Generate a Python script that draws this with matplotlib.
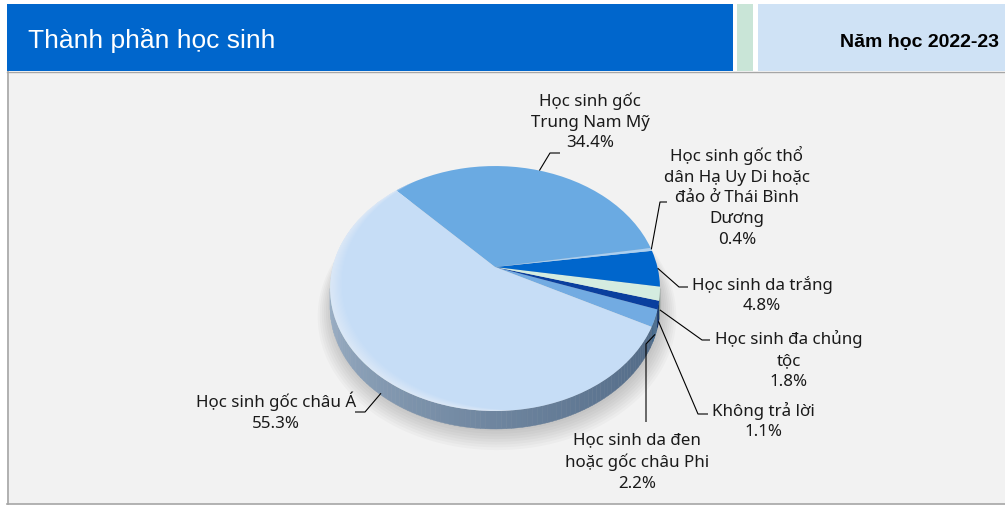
import numpy as np
import matplotlib
matplotlib.use("Agg")
import matplotlib.pyplot as plt
import matplotlib.transforms as mtransforms
from matplotlib.patches import Rectangle, Polygon
from matplotlib.colors import to_rgb

# ---------------- data ----------------
title = "Thành phần học sinh"
year_label = "Năm học 2022-23"
categories = [
    "Học sinh da đen\nhoặc gốc châu Phi",
    "Không trả lời",
    "Học sinh đa chủng\ntộc",
    "Học sinh da trắng",
    "Học sinh gốc thổ\ndân Hạ Uy Di hoặc\nđảo ở Thái Bình\nDương",
    "Học sinh gốc\nTrung Nam Mỹ",
    "Học sinh gốc châu Á",
]
shares = [2.2, 1.1, 1.8, 4.8, 0.4, 34.4, 55.3]
colors = ["#72abe2", "#0a3f9e", "#d4ece0", "#0066cc", "#a9cff2", "#6aaae2", "#c6ddf6"]

# ---------------- layout (pixels) ----------------
W, H = 1005, 506
fig = plt.figure(figsize=(W / 100, H / 100), dpi=100)
fig.patch.set_facecolor("white")
ax = fig.add_axes([0, 0, 1, 1])

# header and frame
ax.add_patch(Rectangle((7, 73), 998, 432, facecolor="#f2f2f2", edgecolor="none", zorder=0))
ax.plot([7.5, 7.5], [72, 505], color="#a6a6a6", lw=1.2, zorder=1)
ax.plot([7, 1005], [504.5, 504.5], color="#a6a6a6", lw=1.2, zorder=1)
ax.plot([7, 1005], [72.5, 72.5], color="#a6a6a6", lw=1.0, zorder=1)
ax.add_patch(Rectangle((7, 5), 726, 67, facecolor="#0066cc", edgecolor="none", zorder=1))
ax.add_patch(Rectangle((737, 5), 16, 67, facecolor="#c9e5d7", edgecolor="none", zorder=1))
ax.add_patch(Rectangle((758, 5), 247, 67, facecolor="#cfe2f5", edgecolor="none", zorder=1))
ax.text(28, 40, title, color="white", fontsize=19, family="Liberation Sans",
        ha="left", va="center", zorder=5)
ax.text(999, 42, year_label, color="black", fontsize=14, family="Liberation Sans",
        fontweight="bold", ha="right", va="center", zorder=5)


# ---------------- perspective pie ----------------
class Perspective(mtransforms.Transform):
    input_dims = 2
    output_dims = 2
    is_separable = False

    def __init__(self, cx, cy, a, b, k):
        super().__init__()
        self.cx, self.cy, self.a, self.b, self.k = cx, cy, a, b, k

    def transform_non_affine(self, values):
        values = np.asarray(values, dtype=float).reshape(-1, 2)
        u, v = values[:, 0], values[:, 1]
        w = 1 + self.k * v
        return np.column_stack([self.cx + self.a * u / w, self.cy - self.b * v / w])


persp = Perspective(cx=495, cy=268, a=162.4, b=118.7, k=0.1756)
depth = 18

wedges, _ = ax.pie(shares, colors=colors, startangle=-27.6, counterclock=True,
                   radius=1, center=(0, 0), wedgeprops=dict(linewidth=0))
for wd in wedges:
    wd.set_transform(persp + ax.transData)
    wd.set_zorder(4)

ax.set_aspect("auto")
ax.set_xlim(0, W)
ax.set_ylim(H, 0)
ax.axis("off")

# soft shadow under the pie
tt = np.linspace(0, 2 * np.pi, 200)
for i in range(8):
    s = 1.0 + 0.012 * i
    pts = persp.transform(np.column_stack([s * np.cos(tt), s * np.sin(tt)]))
    pts[:, 1] += depth + 2 + i * 0.6
    pts[:, 0] += 2
    ax.add_patch(Polygon(pts, closed=True, facecolor="#000000", alpha=0.025,
                         edgecolor="none", zorder=2))

# soft glossy highlight along the left rim of the top face (tapered)
ts = np.linspace(np.deg2rad(125), np.deg2rad(275), 120)
profile = np.sin(np.pi * (ts - ts[0]) / (ts[-1] - ts[0])) ** 0.8
outer = persp.transform(np.column_stack([np.cos(ts), np.sin(ts)]))
for i in range(10):
    r_in = 1 - 0.007 * (i + 1) * profile
    inner = persp.transform(np.column_stack([r_in * np.cos(ts), r_in * np.sin(ts)]))
    ax.add_patch(Polygon(np.vstack([outer, inner[::-1]]), closed=True,
                         facecolor="white", alpha=0.05, edgecolor="none", zorder=4.5))

# side of the pie (visible front arc)
k = persp.k
t_left = np.pi + np.arcsin(k)
t_right = 2 * np.pi - np.arcsin(k)
side_dark = np.array(to_rgb("#4d6683"))
side_light = np.array(to_rgb("#9fb3c8"))
for wd, col in zip(wedges, colors):
    t1 = np.deg2rad(wd.theta1) % (2 * np.pi)
    t2 = t1 + np.deg2rad(wd.theta2 - wd.theta1)
    for off in (0, 2 * np.pi, -2 * np.pi):
        a1 = max(t1 + off, t_left)
        a2 = min(t2 + off, t_right)
        if a2 <= a1:
            continue
        n = max(2, int((a2 - a1) / np.deg2rad(1.5)) + 1)
        edges = np.linspace(a1, a2, n)
        for e0, e1 in zip(edges[:-1], edges[1:]):
            tseg = np.linspace(e0, e1, 4)
            top = persp.transform(np.column_stack([np.cos(tseg), np.sin(tseg)]))
            bot = top.copy()
            bot[:, 1] += depth
            frac = (0.5 * (e0 + e1) - t_left) / (t_right - t_left)
            if wd.theta2 - wd.theta1 > 100:
                c = side_light * (1 - frac) ** 1.3 + side_dark * (1 - (1 - frac) ** 1.3)
            else:
                c = np.array(to_rgb(col)) * 0.62
            ax.add_patch(Polygon(np.vstack([top, bot[::-1]]), closed=True,
                                 facecolor=c, edgecolor=c, lw=0.3, zorder=3))

# ---------------- labels with leader lines ----------------
label_font = dict(family="Noto Sans", fontsize=12.2, linespacing=1.38)
# (text centre x, text centre y, elbow point, end point) in pixels
label_layout = [
    (637, 462, (646, 345), (646, 423)),
    (763, 421, (698, 415), (708, 415)),
    (789, 360, (702, 341), (710, 341)),
    (762, 295, (679, 288), (688, 288)),
    (737, 197, (660, 203), (667, 203)),
    (590, 122, (550, 154), (560, 154)),
    (276, 412, (365, 413), (355, 413)),
]
for wd, cat, val, (tx, ty, elbow, end) in zip(wedges, categories, shares, label_layout):
    m = np.deg2rad(0.5 * (wd.theta1 + wd.theta2))
    p = persp.transform([[np.cos(m), np.sin(m)]])[0]
    if np.sin(m) < -0.2:
        p[1] += depth * 0.9
    ax.plot([p[0], elbow[0], end[0]], [p[1], elbow[1], end[1]],
            color="black", lw=0.8, zorder=6, solid_capstyle="butt")
    ax.text(tx, ty, f"{cat}\n{val:.1f}%", ha="center", va="center",
            multialignment="center", color="#1a1a1a", zorder=7, **label_font)

fig.savefig("out.png", dpi=100, facecolor=fig.get_facecolor())
